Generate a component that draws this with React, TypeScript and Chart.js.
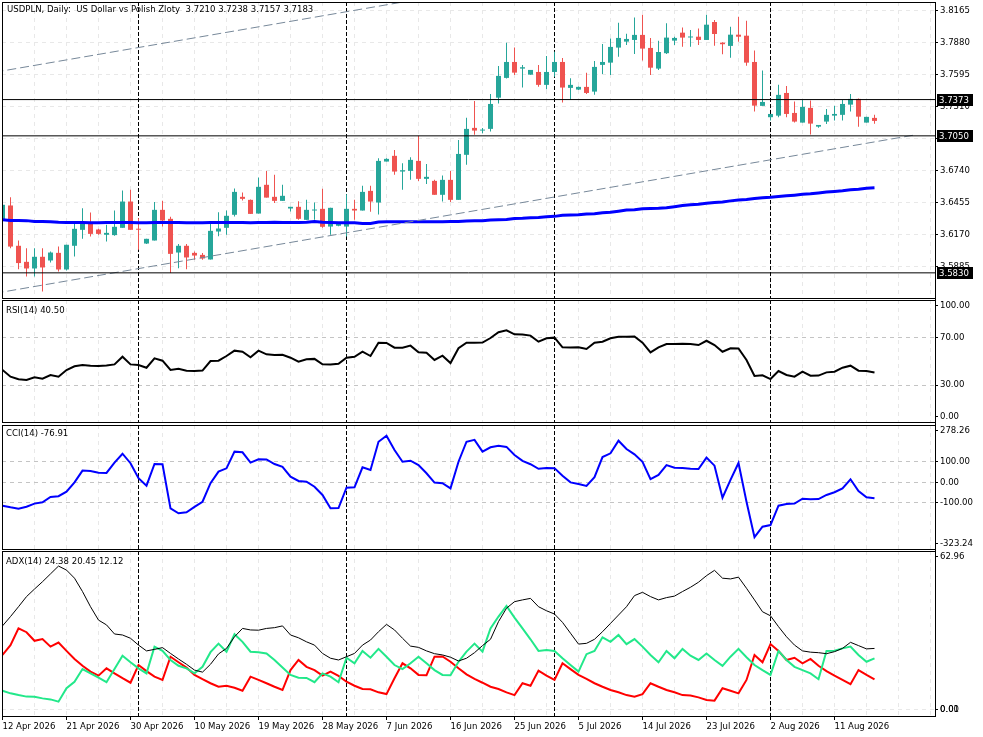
import React, { useEffect, useRef } from 'react';
import { Chart, registerables } from 'chart.js';

Chart.register(...registerables);

// ---------------- data ----------------
const symbolText = 'USDPLN, Daily:  US Dollar vs Polish Zloty';

const opens = [
  3.6302, 3.6430, 3.6071, 3.5928, 3.5869, 3.5973, 3.5940, 3.6008, 3.5860, 3.6071,
  3.6213, 3.6282, 3.6216, 3.6169, 3.6166, 3.6231, 3.6465, 3.6216, 3.6091, 3.6118,
  3.6391, 3.6311, 3.6011, 3.6071, 3.6008, 3.5990, 3.5949, 3.6198, 3.6231, 3.6347,
  3.6507, 3.6480, 3.6358, 3.6614, 3.6507, 3.6471, 3.6403, 3.6418, 3.6302, 3.6385,
  3.6400, 3.6242, 3.6249, 3.6242, 3.6400, 3.6385, 3.6560, 3.6456, 3.6821, 3.6872,
  3.6732, 3.6738, 3.6827, 3.6667, 3.6649, 3.6525, 3.6658, 3.6480, 3.6881, 3.7121,
  3.7097, 3.7112, 3.7390, 3.7566, 3.7708, 3.7649, 3.7595, 3.7619, 3.7504, 3.7619,
  3.7708, 3.7477, 3.7462, 3.7486, 3.7444, 3.7682, 3.7702, 3.7836, 3.7889, 3.7904,
  3.7949, 3.7833, 3.7649, 3.7786, 3.7898, 3.7969, 3.7926, 3.7933, 3.7904, 3.8064,
  3.7880, 3.7851, 3.7951, 3.7942, 3.7708, 3.7317, 3.7216, 3.7230, 3.7432, 3.7254,
  3.7168, 3.7299, 3.7132, 3.7177, 3.7230, 3.7237, 3.7328, 3.7379, 3.7168, 3.7210,
];
const highs = [
  3.6498, 3.6504, 3.6118, 3.6050, 3.6050, 3.6050, 3.6020, 3.6064, 3.6080, 3.6273,
  3.6406, 3.6367, 3.6222, 3.6258, 3.6385, 3.6563, 3.6569, 3.6317, 3.6133, 3.6460,
  3.6471, 3.6329, 3.6088, 3.6088, 3.6020, 3.6006, 3.6266, 3.6370, 3.6385, 3.6581,
  3.6545, 3.6484, 3.6678, 3.6738, 3.6703, 3.6614, 3.6418, 3.6468, 3.6480, 3.6456,
  3.6578, 3.6409, 3.6266, 3.6531, 3.6480, 3.6605, 3.6605, 3.6851, 3.6851, 3.6925,
  3.6807, 3.6860, 3.7052, 3.6800, 3.6658, 3.6696, 3.6738, 3.7014, 3.7212, 3.7361,
  3.7121, 3.7423, 3.7673, 3.7880, 3.7836, 3.7682, 3.7637, 3.7682, 3.7762, 3.7800,
  3.7744, 3.7563, 3.7490, 3.7613, 3.7717, 3.7868, 3.7916, 3.8058, 3.7960, 3.8103,
  3.8129, 3.7922, 3.7898, 3.8053, 3.7933, 3.8014, 3.7993, 3.8005, 3.8129, 3.8082,
  3.7884, 3.8022, 3.8111, 3.8076, 3.7809, 3.7631, 3.7245, 3.7504, 3.7495, 3.7355,
  3.7370, 3.7364, 3.7147, 3.7290, 3.7319, 3.7370, 3.7423, 3.7382, 3.7219, 3.7238,
];
const lows = [
  3.6284, 3.6050, 3.5863, 3.5797, 3.5797, 3.5664, 3.5922, 3.5842, 3.5851, 3.5975,
  3.6133, 3.6153, 3.6169, 3.6109, 3.6160, 3.6231, 3.6213, 3.6035, 3.6086, 3.6118,
  3.6242, 3.5828, 3.5872, 3.5863, 3.5946, 3.5946, 3.5949, 3.6157, 3.6169, 3.6331,
  3.6474, 3.6355, 3.6358, 3.6500, 3.6451, 3.6471, 3.6376, 3.6302, 3.6302, 3.6302,
  3.6231, 3.6169, 3.6245, 3.6153, 3.6302, 3.6385, 3.6373, 3.6349, 3.6821, 3.6703,
  3.6569, 3.6658, 3.6649, 3.6622, 3.6525, 3.6465, 3.6460, 3.6480, 3.6792, 3.7059,
  3.7074, 3.7088, 3.7337, 3.7560, 3.7593, 3.7480, 3.7595, 3.7488, 3.7465, 3.7577,
  3.7346, 3.7370, 3.7458, 3.7423, 3.7415, 3.7601, 3.7593, 3.7755, 3.7860, 3.7779,
  3.7720, 3.7593, 3.7637, 3.7779, 3.7860, 3.7844, 3.7844, 3.7860, 3.7904, 3.7853,
  3.7777, 3.7746, 3.7889, 3.7675, 3.7266, 3.7317, 3.7186, 3.7216, 3.7216, 3.7168,
  3.7168, 3.7061, 3.7123, 3.7156, 3.7186, 3.7186, 3.7266, 3.7130, 3.7168, 3.7157,
];
const closes = [
  3.6436, 3.6064, 3.5917, 3.5869, 3.5973, 3.5878, 3.6011, 3.5860, 3.6080, 3.6222,
  3.6269, 3.6177, 3.6177, 3.6186, 3.6240, 3.6465, 3.6213, 3.6214, 3.6133, 3.6391,
  3.6296, 3.5999, 3.6071, 3.5967, 3.5984, 3.5958, 3.6204, 3.6225, 3.6338, 3.6551,
  3.6489, 3.6355, 3.6596, 3.6500, 3.6471, 3.6516, 3.6418, 3.6311, 3.6391, 3.6388,
  3.6240, 3.6409, 3.6266, 3.6400, 3.6385, 3.6551, 3.6465, 3.6827, 3.6845, 3.6732,
  3.6744, 3.6836, 3.6667, 3.6685, 3.6525, 3.6658, 3.6480, 3.6889, 3.7112, 3.7097,
  3.7100, 3.7334, 3.7584, 3.7708, 3.7613, 3.7661, 3.7637, 3.7504, 3.7619, 3.7708,
  3.7480, 3.7504, 3.7486, 3.7432, 3.7664, 3.7708, 3.7842, 3.7922, 3.7913, 3.7949,
  3.7827, 3.7657, 3.7797, 3.7925, 3.7922, 3.7925, 3.7929, 3.7904, 3.8040, 3.7957,
  3.7866, 3.7951, 3.7933, 3.7702, 3.7319, 3.7352, 3.7245, 3.7415, 3.7245, 3.7177,
  3.7308, 3.7159, 3.7147, 3.7237, 3.7245, 3.7334, 3.7379, 3.7221, 3.7219, 3.7183,
];
const movingAvg = [
  3.6302, 3.6297, 3.6296, 3.6295, 3.6288, 3.6287, 3.6286, 3.6280, 3.6279, 3.6278,
  3.6278, 3.6277, 3.6277, 3.6278, 3.6279, 3.6279, 3.6278, 3.6277, 3.6277, 3.6278,
  3.6278, 3.6279, 3.6278, 3.6277, 3.6276, 3.6277, 3.6278, 3.6279, 3.6279, 3.6278,
  3.6278, 3.6277, 3.6278, 3.6279, 3.6280, 3.6279, 3.6278, 3.6279, 3.6281, 3.6287,
  3.6280, 3.6278, 3.6277, 3.6277, 3.6276, 3.6270, 3.6269, 3.6283, 3.6284, 3.6284,
  3.6285, 3.6284, 3.6284, 3.6285, 3.6285, 3.6286, 3.6287, 3.6288, 3.6292, 3.6293,
  3.6295, 3.6300, 3.6302, 3.6305, 3.6313, 3.6316, 3.6321, 3.6323, 3.6330, 3.6333,
  3.6342, 3.6345, 3.6347, 3.6354, 3.6357, 3.6366, 3.6369, 3.6379, 3.6389, 3.6392,
  3.6401, 3.6404, 3.6406, 3.6410, 3.6419, 3.6429, 3.6436, 3.6440, 3.6450, 3.6456,
  3.6461, 3.6471, 3.6479, 3.6484, 3.6492, 3.6499, 3.6503, 3.6509, 3.6516, 3.6522,
  3.6529, 3.6534, 3.6542, 3.6549, 3.6555, 3.6561, 3.6569, 3.6575, 3.6583, 3.6587,
];
const rsi = [
  42.6, 37.0, 34.8, 34.2, 36.5, 35.3, 38.4, 37.0, 42.6, 45.7,
  46.8, 46.2, 46.0, 46.3, 47.3, 53.7, 47.3, 46.8, 44.5, 52.4,
  50.4, 42.6, 43.7, 42.0, 41.8, 42.1, 50.1, 50.4, 54.3, 58.8,
  57.9, 53.2, 58.8, 55.7, 55.2, 55.3, 52.9, 49.5, 51.6, 51.9,
  47.3, 47.2, 47.8, 52.9, 53.7, 57.9, 54.3, 65.5, 65.3, 61.3,
  61.2, 63.0, 57.4, 57.1, 51.0, 54.6, 48.4, 60.8, 65.5, 65.4,
  65.6, 69.4, 74.2, 75.9, 72.5, 72.4, 71.4, 66.3, 69.2, 69.7,
  61.6, 61.5, 61.7, 60.2, 65.5, 66.3, 69.2, 70.5, 70.4, 70.6,
  65.5, 57.4, 61.6, 64.4, 64.3, 64.5, 64.4, 63.5, 67.1, 63.5,
  57.9, 60.8, 60.7, 51.0, 37.5, 38.1, 35.0, 41.7, 38.4, 37.0,
  41.2, 37.8, 37.9, 40.6, 41.2, 44.5, 46.2, 42.0, 41.7, 40.5,
];
const cci = [
  -113, -121, -128, -118, -103, -97, -71, -67, -45, 0,
  57, 55, 47, 46, 96, 139, 93, 20, -16, 89,
  88, -126, -150, -145, -119, -94, -4, 52, 68, 149,
  146, 96, 112, 111, 89, 75, 28, 7, 3, -21,
  -61, -126, -125, -26, -24, 73, 60, 197, 226, 157,
  100, 105, 84, 44, -1, -4, -29, 100, 197, 206,
  149, 170, 178, 172, 133, 104, 88, 66, 70, 69,
  32, 0, -8, -17, 25, 123, 141, 202, 162, 136,
  100, 16, 36, 84, 71, 70, 66, 65, 120, 81,
  -74, 12, 94, -94, -266, -215, -207, -113, -105, -103,
  -79, -82, -81, -61, -48, -29, 15, -42, -72, -76.91,
];
const adx = [
  33.3, 37.0, 40.9, 44.9, 47.9, 50.8, 53.9, 57.0, 55.4, 52.2,
  46.9, 40.9, 35.6, 33.7, 30.1, 29.7, 28.4, 25.7, 23.4, 24.0,
  24.7, 22.4, 20.2, 18.1, 15.8, 15.0, 18.1, 22.2, 24.4, 29.0,
  32.3, 31.7, 31.6, 32.3, 32.6, 33.3, 29.7, 28.6, 27.0, 25.7,
  22.4, 20.5, 19.8, 21.1, 22.4, 25.7, 27.7, 31.0, 33.9, 31.7,
  28.4, 25.3, 24.8, 23.4, 22.3, 21.8, 20.9, 19.4, 20.5, 22.7,
  25.5, 28.0, 35.0, 40.3, 42.9, 43.6, 44.2, 40.9, 39.3, 38.0,
  34.7, 30.4, 26.1, 26.4, 28.0, 31.0, 34.3, 37.6, 40.9, 45.3,
  46.6, 44.9, 43.6, 44.5, 45.1, 46.9, 48.6, 50.6, 53.2, 55.3,
  52.2, 51.9, 52.6, 48.2, 43.6, 38.9, 37.3, 33.0, 29.0, 25.7,
  23.4, 22.9, 22.7, 22.3, 23.1, 24.4, 26.8, 25.5, 24.2, 24.38,
];
const plusDI = [
  7.6, 6.6, 5.9, 5.3, 5.2, 4.6, 4.2, 3.3, 8.6, 11.2,
  16.2, 14.5, 12.8, 11.0, 16.2, 21.5, 18.9, 16.5, 14.5, 25.1,
  23.4, 19.8, 17.5, 16.5, 14.5, 17.1, 22.9, 26.3, 23.1, 30.0,
  27.0, 23.1, 22.9, 22.4, 19.8, 16.8, 13.9, 12.8, 12.7, 11.0,
  14.5, 13.2, 11.0, 20.7, 18.5, 23.4, 20.7, 24.2, 21.1, 17.8,
  16.2, 18.5, 21.1, 18.5, 15.8, 13.9, 13.8, 19.1, 23.1, 26.3,
  23.1, 32.3, 37.0, 41.2, 36.6, 32.3, 28.0, 23.4, 23.8, 23.4,
  20.5, 17.8, 15.2, 22.1, 23.4, 28.8, 27.0, 29.7, 26.1, 28.1,
  25.1, 21.8, 18.9, 23.4, 20.5, 24.2, 21.5, 19.8, 22.4, 19.8,
  17.5, 21.1, 24.2, 20.9, 17.8, 15.8, 13.9, 23.4, 19.8, 17.1,
  15.8, 14.5, 12.2, 23.4, 23.5, 24.4, 25.1, 21.8, 19.1, 20.45,
];
const minusDI = [
  21.8, 25.7, 32.3, 30.8, 27.4, 28.1, 25.1, 26.7, 23.4, 20.2,
  17.5, 15.2, 13.6, 16.5, 14.5, 12.6, 10.8, 17.8, 15.4, 13.2,
  11.9, 21.1, 18.9, 16.8, 13.9, 12.2, 10.6, 9.2, 9.6, 8.8,
  7.6, 13.2, 11.9, 10.6, 9.2, 7.9, 15.8, 19.8, 17.1, 15.8,
  13.6, 15.2, 13.5, 11.2, 9.6, 8.3, 8.2, 7.0, 6.3, 12.6,
  18.5, 16.5, 13.9, 13.8, 21.1, 21.2, 19.1, 16.5, 14.1, 12.3,
  10.8, 9.2, 8.3, 7.0, 5.9, 10.6, 9.6, 15.6, 13.6, 11.9,
  18.5, 16.2, 13.9, 12.3, 10.6, 9.2, 7.9, 7.0, 5.9, 5.3,
  6.3, 10.6, 9.2, 7.9, 7.0, 5.9, 5.7, 5.0, 4.0, 3.7,
  8.6, 7.6, 6.6, 11.9, 21.8, 18.9, 26.1, 23.4, 19.8, 20.7,
  18.5, 20.2, 17.5, 15.4, 13.6, 11.9, 10.2, 15.8, 13.9, 12.12,
];

const labelBars = [0, 8, 16, 24, 32, 40, 48, 56, 64, 72, 80, 88, 96, 104];
const dateLabels = [
  '12 Apr 2026', '21 Apr 2026', '30 Apr 2026', '10 May 2026', '19 May 2026',
  '28 May 2026', '7 Jun 2026', '16 Jun 2026', '25 Jun 2026', '5 Jul 2026',
  '14 Jul 2026', '23 Jul 2026', '2 Aug 2026', '11 Aug 2026',
];
const separatorBars = [17, 43, 69, 96];
const priceTicks = [3.8165, 3.788, 3.7595, 3.731, 3.7025, 3.674, 3.6455, 3.617, 3.5885];
const hLevels = [3.7373, 3.705, 3.583];
const trendUpper = [[-1, 3.7616], [60, 3.8364]];
const trendLower = [[-1, 3.5647], [113.8, 3.7055]];
const rsiTicks = [100, 70, 30, 0];
const rsiLevels = [70, 30];
const cciTicks = [278.26, 100, 0, -100, -323.24];
const cciLevels = [100, 0, -100];
const adxTicks = [62.96, 0.01, 0];
const adxLevels = [0, 0.01];

// ---------------- layout / style ----------------
const W = 983;
const H = 737;
const FONT = "'DejaVu Sans Condensed', 'Liberation Sans', Arial, sans-serif";
const FONT_SIZE = 9.5;
const Y_AXIS_W = 48;
const X_AXIS_H = 21;
const XMIN = -0.0625;
const XMAX = 116.5625;
const LABEL_INSET = 5.5;
const P_PRICE = { top: 2, bottom: 298, min: 3.5606, max: 3.8242 };
const P_RSI = { top: 300, bottom: 422, min: -1.0, max: 101.26 };
const P_CCI = { top: 425, bottom: 549, min: -323.24, max: 278.26 };
const P_ADX = { top: 551, bottom: 716, min: -2.376, max: 62.96 };
const BULL = '#26a69a';
const BEAR = '#ef5350';
const GRID = '#e8e8e8';
const LEVEL = '#c4c4c4';
const TREND = '#778899';
const CLEAR = 'rgba(0,0,0,0)';

const gridBars: number[] = [];
for (let b = 0; b <= 116; b += 4) gridBars.push(b);

function xScale(showLabels: boolean): any {
  return {
    type: 'linear',
    min: XMIN,
    max: XMAX,
    offset: false,
    bounds: 'data',
    afterBuildTicks: (s: any) => {
      s.ticks = gridBars.map((v) => ({ value: v }));
    },
    afterFit: (s: any) => {
      s.height = showLabels ? X_AXIS_H : 0;
      s.paddingLeft = 0;
      s.paddingRight = 0;
    },
    grid: {
      color: GRID,
      lineWidth: 1,
      offset: false,
      drawTicks: showLabels,
      tickLength: 4,
      tickColor: (c: any) => (c.tick && labelBars.includes(c.tick.value) ? '#000' : CLEAR),
    },
    border: { display: false, dash: [4, 4] },
    ticks: {
      display: showLabels,
      autoSkip: false,
      maxRotation: 0,
      minRotation: 0,
      align: 'start',
      padding: 1,
      color: '#000',
      font: { family: FONT, size: FONT_SIZE },
      callback: (v: any) => {
        const k = labelBars.indexOf(v);
        return k >= 0 ? dateLabels[k] : '';
      },
    },
  };
}

function yScale(p: any, ticks: number[], decimals: number, levels: number[] | null, gridColor: string): any {
  const inset = (LABEL_INSET * (p.max - p.min)) / (p.bottom - p.top);
  return {
    type: 'linear',
    position: 'right',
    min: p.min,
    max: p.max,
    bounds: 'data',
    beginAtZero: false,
    afterBuildTicks: (s: any) => {
      s.ticks = ticks.map((v) => ({ value: Math.min(Math.max(v, p.min + inset), p.max - inset) }));
    },
    afterFit: (s: any) => {
      s.width = Y_AXIS_W;
      s.paddingTop = 0;
      s.paddingBottom = 0;
    },
    grid: {
      color: (c: any) => (!levels || (c.tick && levels.includes(c.tick.value)) ? gridColor : CLEAR),
      lineWidth: 1,
      drawTicks: true,
      tickLength: 3,
      tickColor: '#000',
    },
    border: { display: false, dash: [4, 4] },
    ticks: {
      autoSkip: false,
      padding: 2,
      color: '#000',
      font: { family: FONT, size: FONT_SIZE },
      callback: (_v: any, i: number) => ticks[i].toFixed(decimals),
    },
  };
}

function decor(kind: string): any {
  return {
    id: 'decor_' + kind,
    beforeDatasetsDraw(chart: any) {
      const { ctx, chartArea: a, scales } = chart;
      ctx.save();
      ctx.strokeStyle = '#000';
      ctx.lineWidth = 1;
      ctx.setLineDash([4, 2]);
      for (const b of separatorBars) {
        const x = Math.floor(scales.x.getPixelForValue(b)) + 0.5;
        ctx.beginPath();
        ctx.moveTo(x, a.top);
        ctx.lineTo(x, a.bottom);
        ctx.stroke();
      }
      ctx.restore();
    },
    afterDraw(chart: any) {
      const { ctx, chartArea: a, scales } = chart;
      ctx.save();
      ctx.setLineDash([]);
      ctx.strokeStyle = '#000';
      ctx.lineWidth = 1;
      ctx.strokeRect(a.left + 0.5, a.top + 0.5, a.right - a.left, a.bottom - a.top);
      if (kind === 'price') {
        ctx.font = `${FONT_SIZE}px ${FONT}`;
        ctx.textBaseline = 'middle';
        ctx.textAlign = 'left';
        for (const lv of hLevels) {
          const y = Math.round(scales.y.getPixelForValue(lv));
          ctx.fillStyle = '#000';
          ctx.fillRect(a.right + 2, y - 6, 36, 12);
          ctx.fillStyle = '#fff';
          ctx.fillText(lv.toFixed(4), a.right + 4, y + 0.5);
        }
      }
      if (kind === 'adx') {
        ctx.beginPath();
        ctx.moveTo(a.right + 0.5, P_PRICE.top);
        ctx.lineTo(a.right + 0.5, a.bottom + 0.5);
        ctx.stroke();
      }
      ctx.restore();
    },
  };
}

const series = (arr: number[]) => arr.map((v, i) => ({ x: i, y: v }));
const lineDs = (data: any[], color: string, width: number, order: number, dash?: number[]) => ({
  type: 'line',
  data,
  borderColor: color,
  backgroundColor: color,
  borderWidth: width,
  borderDash: dash || [],
  pointRadius: 0,
  tension: 0,
  fill: false,
  order,
});

function baseOptions(p: any, bottomAxis: boolean, y: any): any {
  return {
    animation: false,
    responsive: false,
    events: [],
    layout: {
      padding: { left: 2, right: 0, top: p.top, bottom: H - p.bottom - (bottomAxis ? X_AXIS_H : 0) },
    },
    plugins: { legend: { display: false }, tooltip: { enabled: false }, title: { display: false } },
    scales: { x: xScale(bottomAxis), y },
  };
}

function priceConfig(): any {
  const colors = opens.map((o, i) => (closes[i] >= o ? BULL : BEAR));
  const wicks = opens.map((_, i) => ({ x: i, y: [lows[i], highs[i]] }));
  const bodies = opens.map((o, i) => ({ x: i, y: [Math.min(o, closes[i]), Math.max(o, closes[i])] }));
  return {
    type: 'bar',
    data: {
      datasets: [
        ...hLevels.map((lv) => lineDs([{ x: XMIN - 1, y: lv }, { x: XMAX + 1, y: lv }], '#000', 1, 1)),
        lineDs(trendUpper.map(([x, y]) => ({ x, y })), TREND, 1, 2, [9, 4]),
        lineDs(trendLower.map(([x, y]) => ({ x, y })), TREND, 1, 2, [9, 4]),
        lineDs(series(movingAvg), '#0000ff', 3, 3),
        {
          type: 'bar', data: bodies, backgroundColor: colors, grouped: false,
          barThickness: 5, maxBarThickness: 5, borderWidth: 0, inflateAmount: 0, minBarLength: 1, order: 4,
        },
        {
          type: 'bar', data: wicks, backgroundColor: colors, grouped: false,
          barThickness: 1, maxBarThickness: 1, borderWidth: 0, inflateAmount: 0, order: 5,
        },
      ],
    },
    options: baseOptions(P_PRICE, false, yScale(P_PRICE, priceTicks, 4, null, GRID)),
    plugins: [decor('price')],
  };
}

function rsiConfig(): any {
  return {
    type: 'line',
    data: { datasets: [lineDs(series(rsi), '#000', 2, 1)] },
    options: baseOptions(P_RSI, false, yScale(P_RSI, rsiTicks, 2, rsiLevels, LEVEL)),
    plugins: [decor('rsi')],
  };
}

function cciConfig(): any {
  return {
    type: 'line',
    data: { datasets: [lineDs(series(cci), '#0000ff', 2, 1)] },
    options: baseOptions(P_CCI, false, yScale(P_CCI, cciTicks, 2, cciLevels, LEVEL)),
    plugins: [decor('cci')],
  };
}

function adxConfig(): any {
  return {
    type: 'line',
    data: {
      datasets: [
        lineDs(series(adx), '#000', 1, 1),
        lineDs(series(plusDI), '#22e88a', 2, 2),
        lineDs(series(minusDI), '#ff0000', 2, 3),
      ],
    },
    options: baseOptions(P_ADX, true, yScale(P_ADX, adxTicks, 2, adxLevels, GRID)),
    plugins: [decor('adx')],
  };
}

const last = opens.length - 1;
const headerText = `${symbolText}  ${opens[last].toFixed(4)} ${highs[last].toFixed(4)} ${lows[last].toFixed(4)} ${closes[last].toFixed(4)}`;
const rsiText = `RSI(14) ${rsi[last].toFixed(2)}`;
const cciText = `CCI(14) ${cci[last].toFixed(2)}`;
const adxText = `ADX(14) ${adx[last].toFixed(2)} ${plusDI[last].toFixed(2)} ${minusDI[last].toFixed(2)}`;

const textStyle = (left: number, top: number): React.CSSProperties => ({
  position: 'absolute',
  left,
  top,
  fontFamily: FONT,
  fontSize: FONT_SIZE,
  lineHeight: '12px',
  whiteSpace: 'pre',
  color: '#000',
  zIndex: 2,
});

export default function App() {
  const r1 = useRef<HTMLCanvasElement>(null);
  const r2 = useRef<HTMLCanvasElement>(null);
  const r3 = useRef<HTMLCanvasElement>(null);
  const r4 = useRef<HTMLCanvasElement>(null);

  useEffect(() => {
    Chart.defaults.font.family = FONT;
    Chart.defaults.font.size = FONT_SIZE;
    const charts: any[] = [];
    if (r1.current) charts.push(new Chart(r1.current, priceConfig()));
    if (r2.current) charts.push(new Chart(r2.current, rsiConfig()));
    if (r3.current) charts.push(new Chart(r3.current, cciConfig()));
    if (r4.current) charts.push(new Chart(r4.current, adxConfig()));
    return () => charts.forEach((c) => c.destroy());
  }, []);

  const canvasStyle: React.CSSProperties = { position: 'absolute', left: 0, top: 0, width: W, height: H };

  return (
    <div style={{ position: 'fixed', left: 0, top: 0, width: W, height: H, background: '#fff', overflow: 'hidden' }}>
      <canvas ref={r1} width={W} height={H} style={canvasStyle} />
      <canvas ref={r2} width={W} height={H} style={canvasStyle} />
      <canvas ref={r3} width={W} height={H} style={canvasStyle} />
      <canvas ref={r4} width={W} height={H} style={canvasStyle} />
      <div style={textStyle(7, 3)}>{headerText}</div>
      <div style={textStyle(6, 304)}>{rsiText}</div>
      <div style={textStyle(6, 427)}>{cciText}</div>
      <div style={textStyle(6, 555)}>{adxText}</div>
    </div>
  );
}
